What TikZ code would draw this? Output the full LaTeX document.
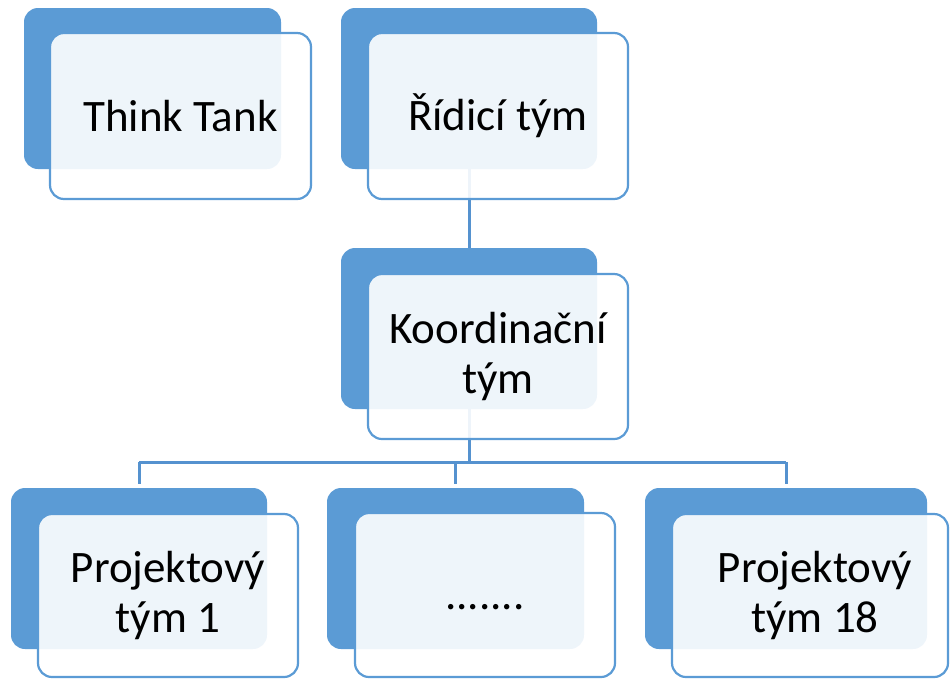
\documentclass[tikz,border=0pt]{standalone}
\usepackage{fontspec}
\setmainfont{Carlito}
\usetikzlibrary{calc}
\definecolor{boxblue}{HTML}{5B9BD5}
\definecolor{connblue}{HTML}{5592CF}
\begin{document}
\begin{tikzpicture}[x=1pt,y=-1pt,
  darkbox/.style={fill=boxblue, draw=none, rounded corners=14pt, inner sep=0pt},
  frontbox/.style={draw=boxblue, line width=2.2pt, fill=white, fill opacity=0.9, text opacity=1,
    rounded corners=14pt, inner sep=0pt, align=center,
    font=\fontsize{45}{50}\selectfont},
  conn/.style={draw=connblue, line width=3pt}]
\useasboundingbox (0,0) rectangle (950,678);

% dark back boxes
\node[darkbox, minimum width=257pt, minimum height=161pt] (ttd) at (152.5,88.5) {};
\node[darkbox, minimum width=256pt, minimum height=161pt] (rtd) at (469,88.5) {};
\node[darkbox, minimum width=256pt, minimum height=161pt] (ktd) at (469,328.5) {};
\node[darkbox, minimum width=256pt, minimum height=161pt] (p1d) at (139,568.5) {};
\node[darkbox, minimum width=257pt, minimum height=161pt] (pmd) at (455.5,568.5) {};
\node[darkbox, minimum width=282pt, minimum height=161pt] (p18d) at (786,568.5) {};

% connectors (under the front boxes)
\coordinate (j) at ($(ktd.south)+(0,53)$);
\draw[conn] (rtd.south) -- (ktd.north);
\draw[conn] (ktd.south) -- (j);
\draw[conn] (p1d.north |- j) -- (p18d.north |- j);
\draw[conn] (p1d.north |- j) -- ($(p1d.north)+(0,-4)$);
\draw[conn] (pmd.north |- j) -- ($(pmd.north)+(0,-4)$);
\draw[conn] (p18d.north |- j) -- ($(p18d.north)+(0,-4)$);

% front boxes
\node[frontbox, minimum width=261pt, minimum height=166pt] (tt) at (180.5,116) {Think Tank};
\node[frontbox, minimum width=260pt, minimum height=166pt] (rt) at (498,116) {Řídicí tým};
\node[frontbox, minimum width=260pt, minimum height=165pt] (kt) at (498,356.5) {Koordinační\\tým};
\node[frontbox, minimum width=260pt, minimum height=163pt] (p1) at (168,595.5) {Projektový\\tým 1};
\node[frontbox, minimum width=260pt, minimum height=164pt] (pm) at (485,595) {\vphantom{T}.......};
\node[frontbox, minimum width=276pt, minimum height=163pt] (p18) at (810,595.5) {\hspace*{10pt}Projektový\\\hspace*{10pt}tým 18};
\end{tikzpicture}
\end{document}
